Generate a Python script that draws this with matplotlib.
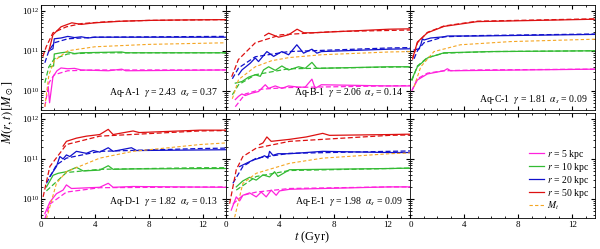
import numpy as np
import matplotlib.pyplot as plt
from matplotlib.ticker import MultipleLocator, LogLocator, NullFormatter

plt.rcParams['font.family'] = ['Liberation Serif', 'DejaVu Serif']
plt.rcParams['mathtext.fontset'] = 'stix'
plt.rcParams['font.size'] = 7

# values are log10(M / Msun), time in Gyr
# ---- Aq-A ----
A_r5 = [[0.55, 0.65, 0.9, 1.2, 1.5, 2, 2.5, 3, 5, 6, 6.3, 13.7],
        [10.1, 9.7, 10.35, 10.5, 10.57, 10.55, 10.56, 10.52, 10.5, 10.54, 10.5, 10.52]]
A_r5_fit = [[0.3, 0.6, 1, 2, 4, 13.7], [9.6, 10.2, 10.4, 10.5, 10.52, 10.52]]
A_r10 = [[0.7, 0.95, 1.0, 1.5, 2, 2.5, 3, 6, 6.3, 13.7],
         [10.6, 10.62, 10.92, 10.95, 10.97, 10.93, 10.95, 10.97, 10.95, 10.95]]
A_r10_fit = [[0.3, 0.6, 1, 2, 4, 13.7], [10.2, 10.6, 10.8, 10.92, 10.95, 10.95]]
A_r20 = [[0.6, 0.9, 1.0, 1.5, 2, 2.5, 3, 3.5, 4, 6, 10, 13.7],
         [11.0, 11.05, 11.3, 11.32, 11.36, 11.33, 11.35, 11.32, 11.34, 11.34, 11.34, 11.34]]
A_r20_fit = [[0.3, 0.6, 1, 2, 4, 13.7], [10.7, 11.0, 11.2, 11.3, 11.34, 11.36]]
A_r50 = [[0.6, 0.9, 1.5, 2.3, 3, 4, 6, 8, 10, 13.7],
         [11.0, 11.4, 11.6, 11.7, 11.66, 11.7, 11.74, 11.76, 11.77, 11.78]]
A_r50_fit = [[0.15, 0.4, 0.9, 1.9, 3, 5, 8, 13.7], [10.85, 11.1, 11.45, 11.6, 11.68, 11.73, 11.76, 11.78]]
A_mt = [[0.3, 0.6, 1, 2, 4, 8, 13.7], [9.6, 10.4, 10.75, 11.0, 11.1, 11.16, 11.2]]

# ---- Aq-B ----
B_r5 = [[0.72, 0.96, 1.21, 1.46, 1.95, 2.44, 2.94, 3.19, 3.68, 4.17, 4.67, 5.41, 5.9, 6.4, 6.64, 7.1, 12.1, 13.7],
        [9.78, 9.86, 9.92, 9.88, 9.94, 9.98, 10.15, 10.06, 10.12, 10.06, 10.12, 10.09, 10.09, 10.29, 10.06, 10.15, 10.12, 10.12]]
B_r5_fit = [[0.72, 1.46, 2.7, 4.67, 13.7], [9.6, 9.92, 10.04, 10.08, 10.13]]
B_r10 = [[0.72, 1.21, 1.7, 2.2, 2.57, 2.81, 3.19, 3.68, 4.17, 4.67, 5.41, 5.9, 6.4, 6.77, 12.1, 13.7],
         [10.19, 10.23, 10.34, 10.4, 10.36, 10.52, 10.6, 10.51, 10.62, 10.52, 10.6, 10.56, 10.71, 10.56, 10.6, 10.6]]
B_r10_fit = [[0.5, 0.96, 2.2, 4.67, 13.7], [9.9, 10.15, 10.4, 10.55, 10.6]]
B_r20 = [[0.96, 1.21, 1.83, 2.2, 2.44, 3.06, 3.56, 4.17, 4.67, 5.28, 5.78, 6.4, 6.77, 7.1, 12.1, 13.7],
         [10.4, 10.52, 10.69, 10.82, 10.73, 10.98, 10.86, 10.98, 10.9, 11.15, 10.94, 11.04, 10.94, 10.98, 11.04, 11.05]]
B_r20_fit = [[0.5, 0.96, 2.2, 4.67, 12.1, 13.7], [10.3, 10.57, 10.85, 10.98, 11.07, 11.08]]
B_r50 = [[2.9, 3.19, 3.93, 4.67, 5.3, 5.8, 6.4, 7.1, 12.1, 13.7],
         [11.38, 11.44, 11.34, 11.4, 11.54, 11.45, 11.45, 11.46, 11.54, 11.55]]
B_r50_fit = [[0.45, 0.95, 2.2, 4.1, 8, 13.7], [10.35, 10.78, 11.2, 11.4, 11.48, 11.52]]
B_mt = [[0.5, 0.96, 2.2, 3.4, 4.7, 7.1, 12.1, 13.7], [9.8, 10.28, 10.6, 10.75, 10.83, 10.9, 10.97, 10.98]]

# ---- Aq-C ----
C_r5 = [[0.15, 0.52, 1.26, 2.49, 2.74, 2.98, 13.7], [10.03, 10.27, 10.42, 10.5, 10.55, 10.5, 10.54]]
C_r5_fit = [[0.1, 0.52, 1.26, 2.49, 5, 13.7], [10.0, 10.3, 10.44, 10.5, 10.52, 10.54]]
C_r10 = [[0.1, 0.52, 1.26, 2.49, 6, 13.7], [10.28, 10.6, 10.82, 10.95, 10.98, 11.0]]
C_r10_fit = [[0.1, 0.52, 1.26, 2.49, 6, 13.7], [10.25, 10.62, 10.83, 10.94, 10.98, 11.0]]
C_r20 = [[0.27, 0.64, 0.77, 0.89, 1.01, 1.5, 2.49, 2.74, 4.96, 13.7],
         [11.02, 11.05, 11.15, 11.3, 11.27, 11.32, 11.35, 11.37, 11.37, 11.41]]
C_r20_fit = [[0.27, 0.52, 1.0, 2.5, 5, 13.7], [10.8, 11.0, 11.2, 11.35, 11.38, 11.42]]
C_r50 = [[0.2, 0.52, 1.26, 2.49, 4.96, 13.7], [10.85, 11.22, 11.45, 11.61, 11.73, 11.79]]
C_r50_fit = [[0.15, 0.52, 1.26, 2.49, 4.96, 13.7], [10.78, 11.2, 11.46, 11.62, 11.74, 11.8]]
C_mt = [[0.27, 0.77, 1.75, 3.7, 7.43, 13.7], [10.1, 10.6, 10.98, 11.15, 11.23, 11.29]]

# ---- Aq-D ----
D_r5 = [[0.3, 0.67, 1.16, 1.65, 1.9, 2.27, 4.37, 5.0, 5.36, 6.84, 13.7],
        [9.63, 9.92, 10.13, 10.22, 10.35, 10.26, 10.29, 10.39, 10.29, 10.31, 10.29]]
D_r5_fit = [[0.3, 0.67, 1.9, 4.37, 13.7], [9.5, 9.87, 10.17, 10.28, 10.3]]
D_r10 = [[0.42, 0.91, 1.28, 1.9, 2.64, 3.14, 4.37, 5.0, 5.36, 6.84, 13.7],
         [10.3, 10.59, 10.64, 10.68, 10.79, 10.7, 10.72, 10.83, 10.74, 10.75, 10.76]]
D_r10_fit = [[0.42, 1.9, 4.37, 11.8, 13.7], [10.2, 10.66, 10.74, 10.78, 10.78]]
D_r20 = [[0.67, 1.16, 1.41, 1.65, 1.9, 2.15, 2.64, 3.38, 3.88, 4.37, 5.0, 5.36, 6.72, 7.1, 13.7],
         [10.56, 10.81, 11.06, 11.0, 11.1, 11.06, 11.19, 11.14, 11.21, 11.17, 11.28, 11.19, 11.28, 11.21, 11.23]]
D_r20_fit = [[0.42, 1.16, 1.9, 4.37, 11.8, 13.7], [10.39, 10.85, 11.02, 11.19, 11.26, 11.27]]
D_r50 = [[1.65, 1.9, 2.64, 3.38, 4.37, 5.0, 5.36, 6.84, 7.3, 11.8, 13.7],
         [11.32, 11.44, 11.52, 11.57, 11.61, 11.74, 11.61, 11.7, 11.66, 11.72, 11.72]]
D_r50_fit = [[0.17, 0.67, 1.9, 4.37, 11.8, 13.7], [10.05, 10.81, 11.36, 11.57, 11.7, 11.71]]
D_mt = [[0.42, 1.16, 1.9, 4.37, 6.84, 11.8, 13.7], [9.5, 10.39, 10.68, 11.02, 11.19, 11.36, 11.4]]

# ---- Aq-E ----
E_r5 = [[0.42, 0.79, 1.04, 1.28, 1.78, 2.27, 2.64, 3.01, 3.38, 3.75, 4.0, 4.74, 12.15, 13.7],
        [9.72, 10.05, 9.95, 10.09, 10.15, 10.05, 10.17, 10.05, 10.22, 10.09, 10.2, 10.24, 10.3, 10.3]]
E_r5_fit = [[0.54, 1.28, 2.27, 4.74, 12.15, 13.7], [9.87, 10.09, 10.17, 10.26, 10.3, 10.3]]
E_r10 = [[0.79, 1.28, 1.78, 2.27, 2.77, 3.26, 3.63, 3.88, 4.74, 12.15, 13.7],
         [10.3, 10.45, 10.54, 10.47, 10.6, 10.55, 10.68, 10.56, 10.73, 10.76, 10.77]]
E_r10_fit = [[0.79, 2.27, 4.74, 12.15, 13.7], [10.22, 10.56, 10.71, 10.76, 10.77]]
E_r20 = [[1.04, 1.53, 2.02, 2.52, 2.89, 3.14, 3.26, 3.51, 3.88, 4.74, 7.2, 12.15, 13.7],
         [10.81, 10.89, 10.97, 11.02, 11.08, 11.02, 11.19, 11.09, 11.13, 11.13, 11.19, 11.16, 11.16]]
E_r20_fit = [[0.54, 1.28, 2.27, 4.74, 12.15, 13.7], [10.39, 10.81, 11.02, 11.14, 11.19, 11.2]]
E_r50 = [[2.52, 2.77, 3.06, 3.38, 4.74, 5.98, 7.2, 7.7, 12.15, 13.7],
         [11.36, 11.4, 11.55, 11.44, 11.49, 11.55, 11.64, 11.59, 11.61, 11.62]]
E_r50_fit = [[0.3, 0.79, 1.28, 2.27, 4.74, 12.15, 13.7], [9.88, 10.73, 11.06, 11.27, 11.44, 11.59, 11.6]]
E_mt = [[0.67, 1.28, 2.27, 4.74, 7.2, 12.15, 13.7], [9.54, 10.39, 10.64, 10.89, 11.02, 11.13, 11.15]]

halo_names = ['Aq-A-1', 'Aq-B-1', 'Aq-C-1', 'Aq-D-1', 'Aq-E-1']
gammas = ['2.43', '2.06', '1.81', '1.82', '1.98']
alphas = ['0.37', '0.14', '0.09', '0.13', '0.09']

halos = [
    (A_r5, A_r5_fit, A_r10, A_r10_fit, A_r20, A_r20_fit, A_r50, A_r50_fit, A_mt),
    (B_r5, B_r5_fit, B_r10, B_r10_fit, B_r20, B_r20_fit, B_r50, B_r50_fit, B_mt),
    (C_r5, C_r5_fit, C_r10, C_r10_fit, C_r20, C_r20_fit, C_r50, C_r50_fit, C_mt),
    (D_r5, D_r5_fit, D_r10, D_r10_fit, D_r20, D_r20_fit, D_r50, D_r50_fit, D_mt),
    (E_r5, E_r5_fit, E_r10, E_r10_fit, E_r20, E_r20_fit, E_r50, E_r50_fit, E_mt),
]

colors = ['#ff22dd', '#33bb33', '#1111cc', '#dd1111']
labels = ['$r$ = 5 kpc', '$r$ = 10 kpc', '$r$ = 20 kpc', '$r$ = 50 kpc']
orange = '#f5a623'

fig, axes = plt.subplots(2, 3, figsize=(6, 2.49), dpi=100, sharex=True, sharey=True)
fig.subplots_adjust(left=0.068, right=0.992, bottom=0.124, top=0.98, wspace=0, hspace=0.03)

for i, ax in enumerate(axes.flat):
    ax.set_yscale('log')
    ax.set_xlim(0, 13.7)
    ax.set_ylim(3.3e9, 1.4e12)
    ax.xaxis.set_major_locator(MultipleLocator(4))
    ax.xaxis.set_minor_locator(MultipleLocator(1))
    ax.yaxis.set_major_locator(LogLocator(base=10, numticks=10))
    ax.yaxis.set_minor_locator(LogLocator(base=10, subs=np.arange(2, 10), numticks=10))
    ax.yaxis.set_minor_formatter(NullFormatter())
    ax.tick_params(which='both', direction='in', top=True, right=True, labelsize=6.5, pad=2)
    ax.tick_params(axis='y', pad=1.5)
    ax.tick_params(which='major', length=3)
    ax.tick_params(which='minor', length=1.5)
    for s in ax.spines.values():
        s.set_linewidth(0.6)
    if i >= len(halos):
        continue
    series = halos[i]
    for k in range(4):
        sim = series[2 * k]
        fit = series[2 * k + 1]
        ax.plot(sim[0], 10 ** np.array(sim[1]), color=colors[k], lw=0.9)
        ax.plot(fit[0], 10 ** np.array(fit[1]), color=colors[k], lw=0.9, ls=(0, (4, 2)))
    mt = series[8]
    ax.plot(mt[0], 10 ** np.array(mt[1]), color=orange, lw=0.8, ls=(0, (3, 2)))
    ypos = 0.04 if i == 2 else 0.1
    ax.text(0.96, ypos, halo_names[i] + r'  $\gamma$ = ' + gammas[i] + r'  $\alpha_s$ = ' + alphas[i],
            transform=ax.transAxes, ha='right', va='bottom', fontsize=7)

# legend in the empty panel
leg_ax = axes[1, 2]
handles = []
for k in range(4):
    h, = leg_ax.plot([], [], color=colors[k], lw=0.9)
    handles.append(h)
h, = leg_ax.plot([], [], color=orange, lw=0.8, ls=(0, (3, 2)))
handles.append(h)
leg_ax.legend(handles, labels + ['$M_t$'], loc='lower right', frameon=False, fontsize=7,
              handlelength=1.6, handletextpad=0.3, labelspacing=0.0, borderaxespad=0.2)

fig.text(0.002, 0.55, r'$M(r,t)\,[M_\odot]$', rotation=90, ha='left', va='center', fontsize=9)
fig.text(0.52, 0.015, r'$t$ (Gyr)', ha='center', va='bottom', fontsize=9)

fig.savefig('out.png', dpi=100)
